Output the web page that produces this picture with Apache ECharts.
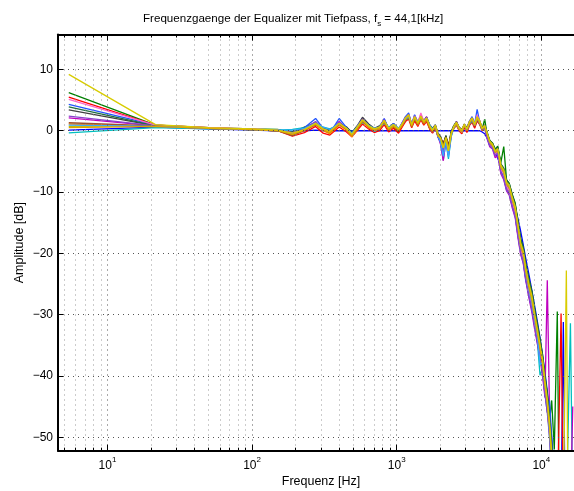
<!DOCTYPE html>
<html>
<head>
<meta charset="utf-8">
<script src="https://cdn.jsdelivr.net/npm/echarts@6/dist/echarts.min.js"></script>
<style>
html, body { margin: 0; padding: 0; background: #fff; }
#chart { width: 574px; height: 491px; }
</style>
</head>
<body>
<div id="chart"></div>
<script>
// frequency points [Hz], shared by all curves
const freq = [
  5.4, 21.5, 50, 100, 150, 190, 230, 275, 310, 345,
  400, 450, 490, 540, 580, 640, 700, 760, 820, 880,
  950, 1030, 1090, 1150, 1210, 1270, 1330, 1400, 1470, 1540,
  1610, 1690, 1770, 1850, 1930, 2010, 2100, 2190, 2280, 2380,
  2480, 2590, 2700, 2820, 2940, 3060, 3190, 3320, 3460, 3600,
  3750, 3900, 4060, 4230, 4400, 4600, 4800, 5000, 5250, 5500,
  5750, 6000, 6300, 6600, 6900, 7200, 7500, 7800, 8200, 8600,
  9000, 9400, 9800, 10200, 10600, 11000, 11400, 11800, 12300, 12900,
  13300, 13700, 14200, 14600, 14900, 15300, 15900, 16500
];

const majorTicksX = [10, 100, 1000, 10000];
const minorTicksX = [5, 6, 7, 8, 9, 20, 30, 40, 50, 60, 70, 80, 90,
  200, 300, 400, 500, 600, 700, 800, 900,
  2000, 3000, 4000, 5000, 6000, 7000, 8000, 9000];
const ticksY = [-50, -40, -30, -20, -10, 0, 10];

// amplitude [dB] of each equalizer curve
const ampBlue = [
  0.1, 0.6, 0.3, 0.1, 0.0, -0.1, 0.0, 0.1, 0.0, 0.0,
  0.0, 0.0, 0.0, 0.0, 0.0, 0.0, 0.0, 0.0, 0.0, 0.0,
  0.0, 0.0, 0.0, 0.0, 0.0, 0.0, 0.0, 0.0, 0.0, 0.0,
  0.0, 0.0, 0.0, 0.0, 0.0, 0.0, 0.0, 0.0, 0.0, 0.0,
  0.0, 0.0, 0.0, 0.0, 0.0, 0.0, 0.0, 0.0, 0.0, 0.0,
  0.0, -0.2, -0.5, -1.2, -2.0, -2.8, -3.6, -4.5, -5.8, -7.0,
  -8.2, -9.4, -11.0, -12.6, -14.4, -16.4, -18.6, -20.8, -23.4, -26.0,
  -28.6, -31.2, -33.8, -36.6, -39.4, -42.5, -46.0, -50.0, -56.0, -62,
  -62, -62, -31.2, -62, -62, -62, -62, -62
];
const ampGreen = [
  6.2, 0.9, 0.5, 0.3, 0.2, -0.3, 0.6, 1.3, 0.5, -0.2,
  1.0, 0.6, -0.4, 0.5, 1.4, 0.9, 0.0, 0.3, 1.3, 0.2,
  0.6, -0.2, 0.8, 1.6, 2.2, 0.7, 1.9, 0.9, 2.0, 1.1,
  1.8, 0.4, -0.3, 0.6, -1.0, -1.5, -2.2, -0.8, -2.6, -0.2,
  0.8, 1.5, 0.1, -0.4, 0.7, 0.0, 1.2, 1.7, 0.6, 1.9,
  1.1, 0.2, 1.9, -0.8, -1.6, -2.0, -3.0, -2.5, -5.2, -2.6,
  -8.0, -8.6, -10.4, -11.8, -14.8, -17.6, -19.0, -21.8, -24.2, -26.2,
  -29.2, -31.8, -34.2, -36.8, -40.2, -43.0, -47.5, -44.0, -52.0, -29.5,
  -62, -62, -62, -62, -62, -62, -62, -62
];
const ampRed = [
  5.5, 0.9, 0.5, 0.2, 0.0, -0.9, -0.3, 0.7, -0.4, -0.7,
  0.6, -0.2, -1.0, 0.2, 1.1, 0.3, -0.3, 0.0, 1.0, -0.2,
  0.4, -0.4, 0.6, 1.5, 1.9, 0.5, 1.6, 0.7, 1.8, 0.9,
  1.5, 0.3, -0.4, 0.5, -0.9, -1.2, -2.0, -1.0, -2.4, -0.6,
  0.3, 0.9, 0.0, -0.5, 0.5, -0.3, 0.9, 1.4, 0.4, 1.6,
  1.0, 0.0, 0.5, -0.9, -2.2, -2.6, -3.8, -3.4, -6.3, -7.2,
  -9.2, -9.8, -11.8, -13.3, -16.4, -19.4, -20.8, -23.6, -26.0, -28.2,
  -31.0, -33.6, -36.0, -38.4, -42.0, -45.5, -49.0, -54.0, -62, -62,
  -62, -29.8, -62, -62, -62, -62, -62, -62
];
const ampCyan = [
  -0.35, 0.5, 0.3, 0.2, 0.1, 0.2, 0.5, 0.9, 0.6, 0.3,
  0.9, 0.5, -0.2, 0.8, 1.3, 1.0, -0.1, 0.4, 1.2, 0.6,
  1.0, 0.4, 1.0, 1.8, 2.1, 1.1, 2.0, 1.3, 1.9, 1.5,
  2.1, 0.9, 0.3, 0.6, -0.8, -2.0, -4.8, -1.8, -4.6, -1.0,
  0.4, 1.0, 0.3, -0.2, 0.8, 0.1, 1.1, 1.6, 0.8, 1.9,
  1.2, 0.1, 0.6, -0.6, -2.0, -2.5, -3.6, -3.1, -6.1, -7.0,
  -9.0, -9.6, -11.4, -13.0, -16.0, -19.0, -20.6, -23.8, -26.6, -29.0,
  -31.8, -34.5, -39.9, -38.8, -43.0, -45.0, -50.0, -56.0, -62, -62,
  -62, -62, -62, -62, -62, -62, -31.4, -62
];
const ampMagenta = [
  2.1, 0.8, 0.4, 0.2, 0.1, -0.4, 0.3, 1.4, 0.1, -0.1,
  1.5, 0.2, -0.8, 0.8, 2.0, 0.6, 0.3, 0.6, 1.9, 0.2,
  1.0, 0.1, 1.2, 2.2, 2.7, 1.0, 2.5, 1.4, 2.6, 1.6,
  2.3, 0.7, 0.0, 0.8, -0.9, -2.2, -4.9, -1.6, -4.0, -0.8,
  0.7, 1.5, 0.5, 0.0, 1.0, 0.3, 1.5, 2.2, 1.0, 2.5,
  1.6, 0.2, 0.4, -1.4, -2.6, -3.0, -4.4, -4.0, -7.0, -8.0,
  -9.8, -10.5, -12.6, -14.2, -17.5, -20.2, -21.6, -24.4, -27.2, -29.6,
  -32.4, -34.8, -37.2, -40.0, -43.5, -24.4, -46.0, -52.0, -60, -62,
  -62, -62, -62, -62, -62, -62, -62, -45.0
];
const ampOlive = [
  0.7, 0.8, 0.4, 0.2, 0.1, -0.6, 0.2, 1.3, 0.2, -0.2,
  1.3, 0.3, -0.7, 0.7, 1.8, 0.7, 0.2, 0.5, 1.7, 0.3,
  0.9, 0.2, 1.1, 2.0, 2.5, 0.9, 2.3, 1.2, 2.3, 1.4,
  2.0, 0.8, 0.1, 0.9, -0.6, -1.1, -2.6, -1.1, -3.2, -0.5,
  0.6, 1.3, 0.4, 0.0, 1.0, 0.3, 1.4, 2.0, 1.0, 2.2,
  1.5, 0.4, 0.8, -0.5, -1.8, -2.3, -3.4, -3.0, -5.8, -6.5,
  -8.5, -9.0, -11.0, -12.5, -15.5, -18.5, -19.8, -22.5, -25.0, -27.0,
  -30.0, -32.5, -35.0, -37.5, -41.0, -44.0, -48.0, -53.0, -60, -62,
  -62, -62, -62, -62, -62, -62, -62, -62
];
const ampGray = [
  3.4, 0.8, 0.4, 0.2, 0.0, -0.5, 0.1, 1.0, 0.3, 0.1,
  1.2, 0.6, -0.3, 1.0, 2.2, 1.1, 0.4, 0.8, 1.6, 0.5,
  1.2, 0.3, 1.0, 1.9, 2.3, 1.2, 2.1, 1.5, 2.1, 1.6,
  2.2, 1.0, 0.4, 1.0, -0.4, -0.9, -2.3, -0.8, -2.8, -0.2,
  0.8, 1.4, 0.6, 0.2, 1.1, 0.5, 1.6, 2.1, 1.2, 2.3,
  1.6, 0.5, 1.0, -0.3, -1.6, -2.1, -3.2, -2.8, -5.5, -6.2,
  -8.2, -8.8, -10.6, -12.2, -15.1, -18.0, -19.4, -22.0, -24.6, -26.6,
  -29.6, -32.0, -34.6, -37.0, -40.5, -43.5, -47.0, -52.0, -58, -62,
  -62, -62, -62, -62, -62, -62, -62, -62
];
const ampBlue2 = [
  4.3, 0.9, 0.4, 0.2, 0.0, -0.6, 0.5, 2.0, 0.4, -0.4,
  2.0, 0.5, -0.9, 0.9, 1.9, 0.6, 0.2, 0.5, 2.0, 0.3,
  1.2, 0.2, 1.3, 2.3, 2.9, 1.0, 2.6, 1.3, 2.4, 1.5,
  2.2, 0.6, -0.2, 0.8, -1.1, -1.8, -3.8, -1.4, -3.6, -0.7,
  0.6, 1.4, 0.2, -0.3, 1.0, 0.1, 1.5, 2.3, 1.1, 3.5,
  1.4, 0.3, 0.5, -1.2, -2.4, -2.8, -4.0, -3.6, -6.6, -7.6,
  -9.6, -10.2, -12.2, -13.8, -17.0, -19.9, -21.3, -24.2, -26.8, -29.0,
  -31.8, -34.4, -36.8, -39.4, -42.8, -46.0, -44.0, -50.0, -62, -62,
  -62, -62, -62, -62, -62, -62, -62, -62
];
const ampDarkGreen = [
  3.9, 0.8, 0.4, 0.2, 0.1, -0.2, 0.4, 1.1, 0.3, 0.0,
  1.0, 0.4, -0.6, 0.6, 1.6, 0.8, 0.3, 0.6, 1.5, 0.4,
  0.8, 0.3, 0.9, 1.8, 2.2, 0.9, 2.0, 1.1, 2.0, 1.3,
  1.9, 0.7, 0.1, 0.8, -0.7, -1.1, -2.4, -1.0, -2.9, -0.4,
  0.6, 1.2, 0.4, 0.0, 0.9, 0.2, 1.3, 1.8, 0.9, 2.0,
  1.3, 0.3, 0.7, -0.4, -1.6, -2.1, -3.1, -2.7, -5.4, -6.1,
  -8.0, -8.6, -10.5, -12.0, -14.9, -17.8, -19.1, -21.7, -24.2, -26.2,
  -29.1, -31.6, -34.0, -36.5, -40.0, -42.8, -46.5, -51.0, -57, -62,
  -62, -62, -62, -62, -62, -62, -62, -62
];
const ampPink = [
  5.1, 0.9, 0.5, 0.3, 0.1, -0.3, 0.2, 1.2, 0.2, -0.3,
  1.2, 0.2, -0.7, 0.7, 1.7, 0.7, 0.1, 0.4, 1.6, 0.2,
  1.0, 0.2, 1.1, 2.1, 2.6, 0.9, 2.4, 1.3, 2.9, 1.5,
  2.1, 0.7, 0.0, 0.7, -0.9, -1.4, -3.0, -1.3, -3.5, -0.7,
  0.5, 1.3, 0.3, -0.2, 0.9, 0.1, 1.4, 2.0, 1.0, 2.6,
  1.5, 0.2, 0.6, -1.0, -2.1, -2.7, -3.8, -3.3, -6.3, -7.1,
  -9.1, -9.7, -11.7, -13.3, -16.4, -19.3, -20.7, -23.5, -26.2, -28.4,
  -31.2, -33.8, -36.4, -39.0, -42.5, -45.0, -49.5, -55.0, -62, -62,
  -62, -62, -62, -62, -62, -62, -62, -62
];
const ampOrange = [
  1.1, 0.7, 0.4, 0.2, 0.1, -0.7, 0.1, 1.0, 0.0, -0.5,
  0.9, 0.1, -1.0, 0.4, 1.5, 0.5, 0.0, 0.3, 1.4, 0.1,
  0.7, 0.0, 0.8, 1.8, 2.3, 0.6, 2.0, 0.9, 2.0, 1.1,
  1.7, 0.4, -0.2, 0.6, -0.9, -1.3, -2.7, -1.2, -3.1, -0.6,
  0.4, 1.1, 0.2, -0.3, 0.8, 0.0, 1.2, 1.8, 0.8, 2.0,
  1.2, 0.1, 0.5, -0.8, -2.0, -2.5, -3.6, -3.2, -6.0, -6.8,
  -8.8, -9.3, -11.3, -12.8, -15.9, -18.8, -20.2, -23.0, -25.6, -27.7,
  -30.6, -33.2, -35.7, -38.2, -41.8, -44.6, -48.5, -54.0, -62, -62,
  -62, -62, -62, -62, -62, -62, -62, -62
];
const ampPurple = [
  2.4, 0.8, 0.4, 0.2, 0.1, -0.4, 0.3, 1.5, 0.3, -0.1,
  1.4, 0.3, -0.6, 0.8, 1.9, 0.8, 0.3, 0.6, 1.8, 0.4,
  1.0, 0.3, 1.2, 2.1, 2.6, 1.0, 2.3, 1.3, 2.3, 1.5,
  2.1, 0.8, 0.1, 0.9, -0.7, -1.6, -3.4, -1.2, -3.8, -0.6,
  0.6, 1.3, 0.4, 0.0, 1.0, 0.2, 1.4, 2.1, 1.0, 2.2,
  1.4, 0.2, 0.4, -1.1, -2.4, -2.9, -4.0, -3.7, -6.8, -7.8,
  -9.6, -10.3, -12.4, -14.0, -17.2, -20.0, -21.5, -24.0, -26.8, -29.2,
  -32.0, -34.4, -36.8, -39.5, -43.0, -46.0, -50.0, -56.0, -62, -62,
  -62, -62, -62, -62, -62, -62, -62, -62
];
const ampBrown = [
  1.3, 0.8, 0.4, 0.2, 0.0, -0.8, 0.0, 1.1, 0.1, -0.3,
  1.1, 0.2, -0.8, 0.5, 1.6, 0.6, 0.1, 0.4, 1.5, 0.2,
  0.8, 0.1, 1.0, 1.9, 2.4, 0.7, 2.1, 1.0, 2.1, 1.2,
  1.8, 0.5, -0.1, 0.7, -0.8, -1.2, -2.6, -1.1, -3.0, -0.5,
  0.5, 1.2, 0.3, -0.1, 0.9, 0.1, 1.3, 1.9, 0.9, 2.1,
  1.3, 0.2, 0.6, -0.7, -1.9, -2.4, -3.5, -3.1, -5.9, -6.6,
  -8.6, -9.1, -11.1, -12.6, -15.6, -18.6, -19.9, -22.6, -25.2, -27.3,
  -30.2, -32.7, -35.2, -37.7, -41.3, -44.3, -48.2, -53.5, -60, -62,
  -62, -62, -62, -62, -62, -62, -62, -62
];
const ampLightBlue = [
  0.9, 0.7, 0.4, 0.2, 0.1, 0.1, 0.4, 1.2, 0.6, 0.2,
  1.2, 0.4, -0.4, 0.8, 1.7, 0.9, 0.4, 0.6, 1.6, 0.5,
  1.0, 0.4, 1.1, 1.9, 2.3, 1.1, 2.1, 1.4, 2.1, 1.5,
  2.0, 0.9, 0.3, 0.8, -0.7, -1.9, -4.2, -1.6, -4.3, -0.9,
  0.5, 1.2, 0.4, -0.1, 0.9, 0.2, 1.3, 1.9, 0.9, 2.1,
  1.3, 0.3, 0.7, -0.6, -1.9, -2.4, -3.5, -3.0, -5.9, -6.7,
  -8.7, -9.2, -11.2, -12.7, -15.8, -18.7, -20.1, -23.0, -25.8, -28.0,
  -30.8, -33.4, -38.2, -37.8, -41.6, -44.5, -49.0, -54.0, -62, -62,
  -62, -62, -62, -62, -62, -62, -62, -62
];
const ampGold = [
  0.5, 0.7, 0.4, 0.2, 0.0, -0.6, 0.1, 1.1, 0.1, -0.3,
  1.2, 0.2, -0.8, 0.6, 1.7, 0.6, 0.1, 0.4, 1.6, 0.2,
  0.8, 0.1, 1.0, 2.0, 2.5, 0.8, 2.2, 1.1, 2.2, 1.3,
  1.9, 0.6, 0.0, 0.8, -0.8, -1.3, -2.8, -1.2, -3.3, -0.6,
  0.5, 1.2, 0.3, -0.1, 0.9, 0.2, 1.3, 2.0, 0.9, 2.1,
  1.4, 0.3, 0.7, -0.6, -1.9, -2.4, -3.5, -3.1, -6.0, -6.7,
  -8.7, -9.2, -11.2, -12.8, -15.8, -18.8, -20.1, -22.9, -25.5, -27.6,
  -30.5, -33.0, -35.5, -38.0, -41.6, -44.6, -48.4, -53.8, -61, -62,
  -62, -62, -62, -62, -62, -62, -62, -62
];
const ampYellow = [
  9.2, 1.0, 0.5, 0.3, 0.1, -0.4, 0.2, 1.2, 0.3, -0.1,
  1.2, 0.4, -0.6, 0.8, 1.8, 0.8, 0.3, 0.6, 1.7, 0.4,
  1.0, 0.3, 1.1, 2.1, 2.6, 1.0, 2.3, 1.3, 2.4, 1.5,
  2.1, 0.8, 0.1, 0.9, -0.6, -1.2, -2.8, -1.1, -3.3, -0.5,
  0.7, 1.4, 0.5, 0.1, 1.1, 0.3, 1.5, 2.1, 1.1, 2.3,
  1.6, 0.4, 0.9, -0.5, -1.7, -2.2, -3.3, -2.9, -5.6, -6.4,
  -8.4, -8.9, -10.9, -12.4, -15.4, -18.3, -19.6, -22.3, -24.9, -26.9,
  -29.9, -32.4, -34.9, -37.3, -40.8, -43.8, -47.6, -52.5, -59, -62,
  -62, -62, -62, -62, -22.8, -62, -62, -62
];

const curves = [
  ['blue', '#0000ff', ampBlue],
  ['green', '#008000', ampGreen],
  ['red', '#ff0000', ampRed],
  ['cyan', '#00bfbf', ampCyan],
  ['magenta', '#bf00bf', ampMagenta],
  ['olive', '#bfbf00', ampOlive],
  ['gray', '#404040', ampGray],
  ['blue2', '#2255ff', ampBlue2],
  ['darkgreen', '#1f6f3f', ampDarkGreen],
  ['pink', '#ff66cc', ampPink],
  ['orange', '#ff8800', ampOrange],
  ['purple', '#8844cc', ampPurple],
  ['brown', '#a0522d', ampBrown],
  ['lightblue', '#33aaff', ampLightBlue],
  ['gold', '#e0a000', ampGold],
  ['yellow', '#d8cc00', ampYellow]
];

const FONT = '"Liberation Sans", Arial, sans-serif';
const X_MIN = 4.55, X_MAX = 16830;

let series = curves.map(([name, color, amp]) => {
  if (amp.length !== freq.length) throw new Error(name + ': ' + amp.length);
  return {
    name: name,
    type: 'line',
    xAxisIndex: 0,
    yAxisIndex: 0,
    data: freq.map((f, i) => [f, amp[i]]),
    showSymbol: false,
    clip: true,
    lineStyle: { color: color, width: 1.3 },
    itemStyle: { color: color },
    z: 3
  };
});

let chart = echarts.init(document.getElementById('chart'), null, { renderer: 'canvas' });

// x axes share the same range; extra ones only carry ticks / minor grid
let logAxis = (extra) => Object.assign({
  type: 'log',
  min: X_MIN,
  max: X_MAX,
  axisLabel: { show: false },
  splitLine: { show: false },
  z: 5
}, extra);

let option = {
  animation: false,
  backgroundColor: '#fff',
  title: {
    text: 'Frequenzgaenge der Equalizer mit Tiefpass, f{sub|s} = 44,1[kHz]',
    left: 138,
    top: 5,
    textStyle: {
      fontFamily: FONT,
      fontSize: 11.6,
      fontWeight: 'normal',
      color: '#000',
      lineHeight: 18,
      rich: {
        sub: { fontSize: 8, lineHeight: 8, verticalAlign: 'bottom', fontFamily: FONT, color: '#000' }
      }
    }
  },
  grid: {
    left: 58,
    top: 34.5,
    right: 0,
    bottom: 40.3,
    containLabel: false,
    outerBoundsMode: 'none'
  },
  xAxis: [
    logAxis({
      position: 'bottom',
      name: 'Frequenz [Hz]',
      nameLocation: 'middle',
      nameGap: 24,
      nameMoveOverlap: false,
      nameTextStyle: { fontFamily: FONT, fontSize: 12.5, color: '#000', padding: [0, 0, 0, 10] },
      axisLine: { show: true, onZero: false, lineStyle: { color: '#000', width: 2 } },
      axisTick: { show: true, inside: true, length: 6, customValues: majorTicksX, lineStyle: { color: '#000', width: 1 } },
      axisLabel: {
        customValues: majorTicksX,
        margin: 5,
        formatter: v => '{b|10}{e|' + Math.round(Math.log10(v)) + '}',
        rich: {
          b: { fontFamily: FONT, fontSize: 12, color: '#000', lineHeight: 16, verticalAlign: 'bottom' },
          e: { fontFamily: FONT, fontSize: 8, color: '#000', lineHeight: 8, verticalAlign: 'top' }
        }
      },
      splitLine: { show: true, lineStyle: { color: '#555', width: 1, type: [1, 4] } }
    }),
    logAxis({
      position: 'top',
      axisLine: { show: true, onZero: false, lineStyle: { color: '#000', width: 2 } },
      axisTick: { show: true, inside: true, length: 6, customValues: majorTicksX, lineStyle: { color: '#000', width: 1 } }
    }),
    logAxis({
      position: 'bottom',
      axisLine: { show: false, onZero: false },
      axisTick: { show: true, inside: true, length: 3, customValues: minorTicksX, lineStyle: { color: '#000', width: 1 } },
      splitLine: { show: true, lineStyle: { color: '#999', width: 1, type: [1, 4] } }
    }),
    logAxis({
      position: 'top',
      axisLine: { show: false, onZero: false },
      axisTick: { show: true, inside: true, length: 3, customValues: minorTicksX, lineStyle: { color: '#000', width: 1 } }
    })
  ],
  yAxis: [
    {
      type: 'value',
      min: -52.2,
      max: 15.7,
      name: 'Amplitude [dB]',
      nameLocation: 'middle',
      nameGap: 32,
      nameMoveOverlap: false,
      nameRotate: 90,
      nameTextStyle: { fontFamily: FONT, fontSize: 12.5, color: '#000' },
      axisLine: { show: true, onZero: false, lineStyle: { color: '#000', width: 2 } },
      axisTick: { show: true, inside: true, length: 5, customValues: ticksY, lineStyle: { color: '#000', width: 1 } },
      axisLabel: {
        customValues: ticksY,
        margin: 5,
        fontFamily: FONT,
        fontSize: 12,
        color: '#000',
        formatter: v => (v < 0 ? '\u2212' + (-v) : '' + v)
      },
      splitLine: { show: true, lineStyle: { color: '#555', width: 1, type: [1, 4] } },
      z: 5
    }
  ],
  series: series
};

chart.setOption(option);
</script>
</body>
</html>
